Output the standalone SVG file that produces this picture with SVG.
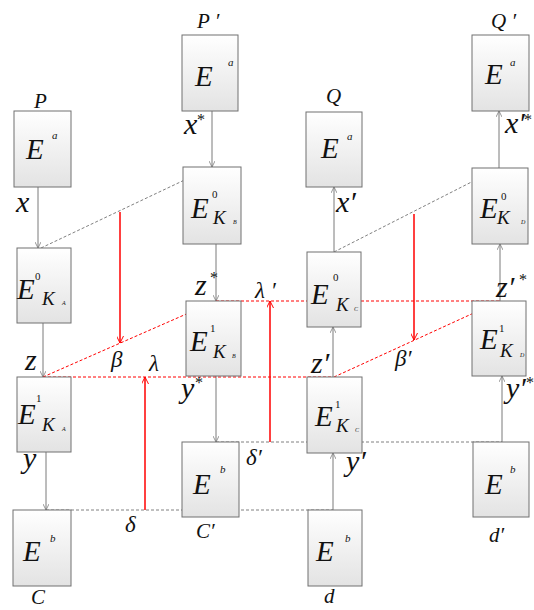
<svg xmlns="http://www.w3.org/2000/svg" width="534" height="610" viewBox="0 0 534 610">
<defs>
<linearGradient id="bg" x1="0" y1="0" x2="0" y2="1">
<stop offset="0" stop-color="#ffffff"/>
<stop offset="1" stop-color="#e3e3e3"/>
</linearGradient>
<marker id="ag" viewBox="0 0 10 10" refX="10" refY="5" markerWidth="6" markerHeight="6" orient="auto" markerUnits="userSpaceOnUse">
<path d="M0,0 L10,5 L0,10" fill="none" stroke="#707070" stroke-width="1.2"/>
</marker>
<marker id="ar" viewBox="0 0 10 10" refX="10" refY="5" markerWidth="7" markerHeight="7" orient="auto" markerUnits="userSpaceOnUse">
<path d="M0,0 L10,5 L0,10" fill="none" stroke="#ff0000" stroke-width="1.4"/>
</marker>
</defs>
<style>
.box{fill:url(#bg);stroke:#707070;stroke-width:1}
.t{font-family:"Liberation Serif","Times New Roman",serif;font-style:italic;fill:#111111}
.E{font-size:29px}
.sup{font-size:11px}
.K{font-size:19px}
.sub{font-size:6px}
.lab{font-size:30px}
.nm{font-size:21px}
.gr{font-size:23px}
.st{font-size:16px;font-style:normal}
.cg{stroke:#7a7a7a;stroke-width:1;fill:none}
.dg{stroke:#606060;stroke-width:0.8;stroke-dasharray:3 2;fill:none}
.dr{stroke:#ff0000;stroke-width:1;stroke-dasharray:3 2;fill:none}
.sr{stroke:#ff0000;stroke-width:1.5;fill:none}
</style>

<g id="connectors">
<line class="cg" x1="38" y1="187" x2="38" y2="248" marker-end="url(#ag)"/>
<line class="cg" x1="43" y1="323" x2="43" y2="377" marker-end="url(#ag)"/>
<line class="cg" x1="46" y1="452" x2="46" y2="510" marker-end="url(#ag)"/>
<line class="cg" x1="212" y1="111" x2="212" y2="167" marker-end="url(#ag)"/>
<line class="cg" x1="216" y1="244" x2="216" y2="301" marker-end="url(#ag)"/>
<line class="cg" x1="216" y1="376" x2="216" y2="442" marker-end="url(#ag)"/>
<line class="cg" x1="333" y1="510" x2="333" y2="453" marker-end="url(#ag)"/>
<line class="cg" x1="333" y1="377" x2="333" y2="327" marker-end="url(#ag)"/>
<line class="cg" x1="334" y1="252" x2="334" y2="187" marker-end="url(#ag)"/>
<line class="cg" x1="502" y1="442" x2="502" y2="376" marker-end="url(#ag)"/>
<line class="cg" x1="500" y1="301" x2="500" y2="244" marker-end="url(#ag)"/>
<line class="cg" x1="499" y1="168" x2="499" y2="111" marker-end="url(#ag)"/>
<line class="dg" x1="41" y1="248" x2="212" y2="167"/>
<line class="dg" x1="334" y1="252" x2="499" y2="168"/>
<line class="dg" x1="46" y1="510" x2="333" y2="510"/>
<line class="dg" x1="216" y1="442" x2="502" y2="442"/>
<line class="dr" x1="43" y1="377" x2="216" y2="301"/>
<line class="dr" x1="43" y1="377" x2="333" y2="377"/>
<line class="dr" x1="216" y1="301" x2="500" y2="301"/>
<line class="dr" x1="334" y1="377" x2="500" y2="301"/>
<line class="sr" x1="120" y1="212" x2="120" y2="343" marker-end="url(#ar)"/>
<line class="sr" x1="145" y1="510" x2="145" y2="377" marker-end="url(#ar)"/>
<line class="sr" x1="414" y1="214" x2="414" y2="340" marker-end="url(#ar)"/>
<line class="sr" x1="270" y1="442" x2="270" y2="301" marker-end="url(#ar)"/>
</g>

<g id="P">
<rect class="box" x="14" y="111" width="57" height="76"/>
<text class="t E" x="26" y="159">E</text><text class="t sup" x="52" y="139">a</text>
<text class="t nm" x="34" y="108">P</text>
</g>
<g id="Pp">
<rect class="box" x="182" y="35" width="56" height="76"/>
<text class="t E" x="195" y="86">E</text><text class="t sup" x="228" y="66">a</text>
<text class="t nm" x="197" y="28">P ′</text>
</g>
<g id="Q">
<rect class="box" x="306" y="112" width="56" height="75"/>
<text class="t E" x="321" y="158">E</text><text class="t sup" x="347" y="140">a</text>
<text class="t nm" x="326" y="103">Q</text>
</g>
<g id="Qp">
<rect class="box" x="472" y="35" width="57" height="76"/>
<text class="t E" x="485" y="84">E</text><text class="t sup" x="510" y="66">a</text>
<text class="t nm" x="491" y="28">Q ′</text>
</g>

<g id="KA0">
<rect class="box" x="17" y="248" width="54" height="75"/>
<text class="t E" x="17" y="299">E</text><text class="t sup" x="35" y="280" style="font-style:normal">0</text>
<text class="t K" x="42" y="305">K</text><text class="t sub" x="62" y="305">A</text>
</g>
<g id="KA1">
<rect class="box" x="17" y="377" width="54" height="75"/>
<text class="t E" x="18" y="424">E</text><text class="t sup" x="36" y="402" style="font-style:normal">1</text>
<text class="t K" x="42" y="431">K</text><text class="t sub" x="62" y="431">A</text>
</g>
<g id="KB0">
<rect class="box" x="183" y="167" width="58" height="77"/>
<text class="t E" x="191" y="218">E</text><text class="t sup" x="212" y="198" style="font-style:normal">0</text>
<text class="t K" x="213" y="224">K</text><text class="t sub" x="233" y="224">B</text>
</g>
<g id="KB1">
<rect class="box" x="186" y="301" width="55" height="75"/>
<text class="t E" x="190" y="351">E</text><text class="t sup" x="210" y="332" style="font-style:normal">1</text>
<text class="t K" x="213" y="358">K</text><text class="t sub" x="232" y="358">B</text>
</g>
<g id="KC0">
<rect class="box" x="307" y="252" width="54" height="75"/>
<text class="t E" x="311" y="304">E</text><text class="t sup" x="333" y="281" style="font-style:normal">0</text>
<text class="t K" x="336" y="311">K</text><text class="t sub" x="354" y="311">C</text>
</g>
<g id="KC1">
<rect class="box" x="307" y="377" width="55" height="76"/>
<text class="t E" x="315" y="426">E</text><text class="t sup" x="335" y="408" style="font-style:normal">1</text>
<text class="t K" x="336" y="432">K</text><text class="t sub" x="355" y="432">C</text>
</g>
<g id="KD0">
<rect class="box" x="472" y="168" width="56" height="76"/>
<text class="t E" x="480" y="218">E</text><text class="t sup" x="501" y="200" style="font-style:normal">0</text>
<text class="t K" x="497" y="224">K</text><text class="t sub" x="521" y="224">D</text>
</g>
<g id="KD1">
<rect class="box" x="472" y="301" width="54" height="75"/>
<text class="t E" x="480" y="349">E</text><text class="t sup" x="499" y="332" style="font-style:normal">1</text>
<text class="t K" x="500" y="357">K</text><text class="t sub" x="520" y="357">D</text>
</g>

<g id="C">
<rect class="box" x="13" y="510" width="58" height="76"/>
<text class="t E" x="23" y="561">E</text><text class="t sup" x="50" y="542">b</text>
<text class="t nm" x="31" y="604">C</text>
</g>
<g id="Cp">
<rect class="box" x="182" y="442" width="57" height="75"/>
<text class="t E" x="193" y="494">E</text><text class="t sup" x="220" y="473">b</text>
<text class="t nm" x="196" y="538">C′</text>
</g>
<g id="d">
<rect class="box" x="308" y="510" width="54" height="76"/>
<text class="t E" x="316" y="561">E</text><text class="t sup" x="345" y="542">b</text>
<text class="t nm" x="324" y="603">d</text>
</g>
<g id="dp">
<rect class="box" x="473" y="442" width="56" height="75"/>
<text class="t E" x="485" y="494">E</text><text class="t sup" x="510" y="473">b</text>
<text class="t nm" x="489" y="542">d′</text>
</g>

<g id="labels">
<text class="t lab" x="16" y="212">x</text>
<text class="t lab" x="184" y="134">x</text><text class="t st" x="197" y="125">*</text>
<text class="t lab" x="336" y="212">x′</text>
<text class="t lab" x="505" y="133">x′</text><text class="t st" x="524" y="125">*</text>
<text class="t lab" x="25" y="370">z</text>
<text class="t lab" x="195" y="295">z</text><text class="t st" x="210" y="283">*</text>
<text class="t lab" x="311" y="373">z′</text>
<text class="t lab" x="496" y="297">z′</text><text class="t st" x="519" y="285">*</text>
<text class="t lab" x="23" y="468">y</text>
<text class="t lab" x="181" y="398">y</text><text class="t st" x="195" y="388">*</text>
<text class="t lab" x="346" y="471">y′</text>
<text class="t lab" x="506" y="398">y′</text><text class="t st" x="526" y="388">*</text>
<text class="t gr" x="111" y="367">β</text>
<text class="t gr" x="149" y="371">λ</text>
<text class="t gr" x="255" y="298">λ ′</text>
<text class="t gr" x="395" y="366">β′</text>
<text class="t gr" x="125" y="532">δ</text>
<text class="t gr" x="246" y="465">δ′</text>
</g>
</svg>
